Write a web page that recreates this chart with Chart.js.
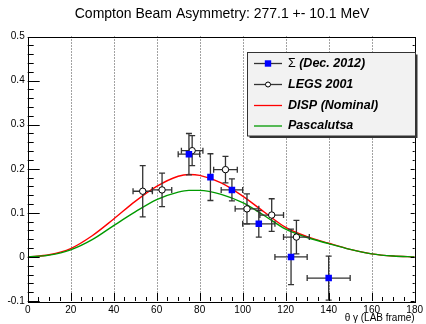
<!DOCTYPE html>
<html><head><meta charset="utf-8">
<script src="https://cdn.jsdelivr.net/npm/chart.js@4/dist/chart.umd.min.js"></script>
<style>html,body{margin:0;padding:0;background:#fff;} #wrap{width:426px;height:324px;}</style>
</head><body><div id="wrap"><canvas id="c" width="426" height="324"></canvas></div>
<script>
const titleText = 'Compton Beam Asymmetry: 277.1 +- 10.1 MeV';
const xAxisTitle = 'θ γ (LAB frame)';
const xTickVals = [0,20,40,60,80,100,120,140,160,180];
const xTickLabels = ['0','20','40','60','80','100','120','140','160','180'];
const yTickVals = [-0.1,0,0.1,0.2,0.3,0.4,0.5];
const yTickLabels = ['-0.1','0','0.1','0.2','0.3','0.4','0.5'];
const legendLabels = ['Σ', ' (Dec. 2012)', 'LEGS 2001', 'DISP (Nominal)', 'Pascalutsa'];

const sigmaX = [75, 85, 95, 107.5, 122.5, 140];
const sigmaY = [0.233, 0.181, 0.152, 0.075, 0.0, -0.048];
const sigmaXErr = [5, 0, 5, 7.5, 7.5, 10];
const sigmaYErr = [0.047, 0.053, 0.025, 0.03, 0.063, 0.05];

const legsX = [53.5, 62.5, 76.5, 92, 102, 113.5, 125];
const legsY = [0.149, 0.152, 0.241, 0.198, 0.109, 0.095, 0.045];
const legsXErr = [4.5, 4.5, 5, 5.5, 5.5, 5.5, 6];
const legsYErr = [0.058, 0.038, 0.034, 0.03, 0.034, 0.037, 0.038];

const curveX = [0, 10, 20, 30, 40, 50, 60, 70, 75, 80, 90, 100, 110, 120, 130, 140, 150, 160, 170, 180];
const dispY  = [0, 0.005, 0.019, 0.048, 0.086, 0.126, 0.160, 0.183, 0.187, 0.185, 0.168, 0.138, 0.102, 0.067, 0.046, 0.031, 0.017, 0.007, 0.002, 0];
const pascY  = [0, 0.004, 0.016, 0.039, 0.071, 0.102, 0.130, 0.147, 0.151, 0.151, 0.142, 0.123, 0.094, 0.063, 0.044, 0.030, 0.017, 0.007, 0.002, 0];

const FONT = "'Liberation Sans', Arial, Helvetica, sans-serif";
const pts = (xs, ys) => xs.map((x, i) => ({x: x, y: ys[i]}));

const errors = {
  0: {xe: sigmaXErr, ye: sigmaYErr},
  1: {xe: legsXErr, ye: legsYErr}
};

const plugin = {
  id: 'rootStyle',
  beforeDatasetsDraw(chart) {
    const {ctx, chartArea: a, scales: {x}} = chart;
    ctx.save();
    ctx.strokeStyle = '#444';
    ctx.lineWidth = 1;
    ctx.setLineDash([1, 2]);
    for (let v = 20; v < 180; v += 20) {
      const px = Math.round(x.getPixelForValue(v)) + 0.5;
      ctx.beginPath(); ctx.moveTo(px, a.top); ctx.lineTo(px, a.bottom); ctx.stroke();
    }
    ctx.restore();
  },
  beforeDatasetDraw(chart, args) {
    const e = errors[args.index];
    if (!e) return;
    const {ctx, scales: {x, y}} = chart;
    const data = chart.data.datasets[args.index].data;
    ctx.save();
    ctx.strokeStyle = '#333';
    ctx.lineWidth = 1.3;
    const cap = 3;
    data.forEach((p, i) => {
      const px = x.getPixelForValue(p.x), py = y.getPixelForValue(p.y);
      const yt = y.getPixelForValue(p.y + e.ye[i]), yb = y.getPixelForValue(p.y - e.ye[i]);
      ctx.beginPath();
      ctx.moveTo(px, yt); ctx.lineTo(px, yb);
      ctx.moveTo(px - cap, yt); ctx.lineTo(px + cap, yt);
      ctx.moveTo(px - cap, yb); ctx.lineTo(px + cap, yb);
      if (e.xe[i] > 0) {
        const xl = x.getPixelForValue(p.x - e.xe[i]), xr = x.getPixelForValue(p.x + e.xe[i]);
        ctx.moveTo(xl, py); ctx.lineTo(xr, py);
        ctx.moveTo(xl, py - cap); ctx.lineTo(xl, py + cap);
        ctx.moveTo(xr, py - cap); ctx.lineTo(xr, py + cap);
      }
      ctx.stroke();
    });
    ctx.restore();
  },
  afterDatasetsDraw(chart) {
    const {ctx, chartArea: a, scales: {x, y}} = chart;
    ctx.save();
    ctx.strokeStyle = '#000';
    ctx.lineWidth = 1;
    ctx.strokeRect(Math.round(a.left) + 0.5, Math.round(a.top) + 0.5, Math.round(a.right - a.left), Math.round(a.bottom - a.top));
    ctx.beginPath();
    for (let k = 0; k <= 30; k++) {
      const v = -0.1 + k * 0.02;
      const py = Math.round(y.getPixelForValue(v)) + 0.5;
      const len = (k % 5 === 0) ? 12 : 6;
      ctx.moveTo(a.left, py); ctx.lineTo(a.left + len, py);
      const rl = (k % 5 === 0) ? 4 : 2;
      ctx.moveTo(a.right, py); ctx.lineTo(a.right - rl, py);
    }
    for (let k = 0; k <= 36; k++) {
      const v = k * 5;
      const px = Math.round(x.getPixelForValue(v)) + 0.5;
      const len = (k % 4 === 0) ? 8 : 4;
      ctx.moveTo(px, a.bottom); ctx.lineTo(px, a.bottom - len);
    }
    ctx.stroke();

    const L = {x: 247.5, y: 52.5, w: 168, h: 83.5};
    ctx.fillStyle = '#333';
    ctx.fillRect(L.x + 2, L.y + 2, L.w, L.h);
    ctx.fillStyle = '#f2f2f2';
    ctx.fillRect(L.x, L.y, L.w, L.h);
    ctx.strokeStyle = '#333';
    ctx.lineWidth = 1;
    ctx.strokeRect(L.x, L.y, L.w, L.h);
    const rows = [63.5, 84.5, 105.5, 126];
    const lx0 = 254, lx1 = 282, tx = 288;
    const ds = chart.data.datasets;
    ctx.strokeStyle = '#333'; ctx.lineWidth = 1.3;
    ctx.beginPath(); ctx.moveTo(lx0, rows[0]); ctx.lineTo(lx1, rows[0]); ctx.stroke();
    ctx.fillStyle = ds[0].pointBackgroundColor;
    ctx.fillRect((lx0 + lx1) / 2 - 3.2, rows[0] - 3.2, 6.4, 6.4);
    ctx.beginPath(); ctx.moveTo(lx0, rows[1]); ctx.lineTo(lx1, rows[1]); ctx.stroke();
    ctx.fillStyle = '#fff'; ctx.strokeStyle = '#000'; ctx.lineWidth = 1;
    ctx.beginPath(); ctx.arc((lx0 + lx1) / 2, rows[1], 2.5, 0, Math.PI * 2); ctx.fill(); ctx.stroke();
    ctx.lineWidth = 1.3;
    ctx.strokeStyle = ds[2].borderColor;
    ctx.beginPath(); ctx.moveTo(lx0, rows[2]); ctx.lineTo(lx1, rows[2]); ctx.stroke();
    ctx.strokeStyle = ds[3].borderColor;
    ctx.beginPath(); ctx.moveTo(lx0, rows[3]); ctx.lineTo(lx1, rows[3]); ctx.stroke();
    ctx.fillStyle = '#000';
    ctx.textBaseline = 'middle';
    ctx.textAlign = 'left';
    ctx.font = '12.5px ' + FONT;
    ctx.fillText(legendLabels[0], tx, rows[0]);
    const sw = ctx.measureText(legendLabels[0]).width;
    ctx.font = 'italic bold 12.5px ' + FONT;
    ctx.fillText(legendLabels[1], tx + sw, rows[0]);
    ctx.fillText(legendLabels[2], tx, rows[1]);
    ctx.fillText(legendLabels[3], tx, rows[2]);
    ctx.fillText(legendLabels[4], tx, rows[3]);
    ctx.restore();
  },
  afterDraw(chart) {
    const {ctx, chartArea: a} = chart;
    ctx.save();
    ctx.fillStyle = '#000';
    ctx.textBaseline = 'middle';
    ctx.textAlign = 'center';
    ctx.font = '14px ' + FONT;
    ctx.fillText(titleText, 222, 14.5);
    ctx.textAlign = 'right';
    ctx.font = '10px ' + FONT;
    ctx.fillText(xAxisTitle, a.right, 318.5);
    ctx.restore();
  }
};

new Chart(document.getElementById('c'), {
  type: 'scatter',
  data: {
    datasets: [
      {label: 'Σ (Dec. 2012)', data: pts(sigmaX, sigmaY), pointStyle: 'rect', pointRadius: 4.6,
       pointBackgroundColor: '#0000ff', pointBorderColor: '#0000ff', pointBorderWidth: 0, order: 1},
      {label: 'LEGS 2001', data: pts(legsX, legsY), pointStyle: 'circle', pointRadius: 3.2,
       pointBackgroundColor: '#ffffff', pointBorderColor: '#000000', pointBorderWidth: 1, order: 2},
      {label: 'DISP (Nominal)', data: pts(curveX, dispY), showLine: true, pointRadius: 0,
       borderColor: '#ff0000', borderWidth: 1.4, cubicInterpolationMode: 'monotone', order: 4},
      {label: 'Pascalutsa', data: pts(curveX, pascY), showLine: true, pointRadius: 0,
       borderColor: '#009a00', borderWidth: 1.4, cubicInterpolationMode: 'monotone', order: 3}
    ]
  },
  options: {
    responsive: false,
    devicePixelRatio: 1,
    animation: false,
    events: [],
    layout: {padding: {top: 36.5, right: 7, left: 0, bottom: 0}},
    plugins: {legend: {display: false}, title: {display: false}, tooltip: {enabled: false}},
    scales: {
      x: {
        type: 'linear', min: 0, max: 180,
        grid: {display: false, drawTicks: false}, border: {display: false},
        afterBuildTicks: s => { s.ticks = xTickVals.map(v => ({value: v})); },
        afterFit: s => { s.height = 23; },
        ticks: {autoSkip: false, maxRotation: 0, padding: 3, color: '#000',
                font: {family: FONT, size: 10},
                callback: (v, i) => xTickLabels[i]}
      },
      y: {
        type: 'linear', min: -0.1, max: 0.5,
        grid: {display: false, drawTicks: false}, border: {display: false},
        afterBuildTicks: s => { s.ticks = yTickVals.map(v => ({value: v})); },
        afterFit: s => { s.width = 27.7; },
        ticks: {autoSkip: false, padding: 3, color: '#000',
                font: {family: FONT, size: 10},
                callback: (v, i) => yTickLabels[i]}
      }
    }
  },
  plugins: [plugin]
});
</script>
</body></html>
